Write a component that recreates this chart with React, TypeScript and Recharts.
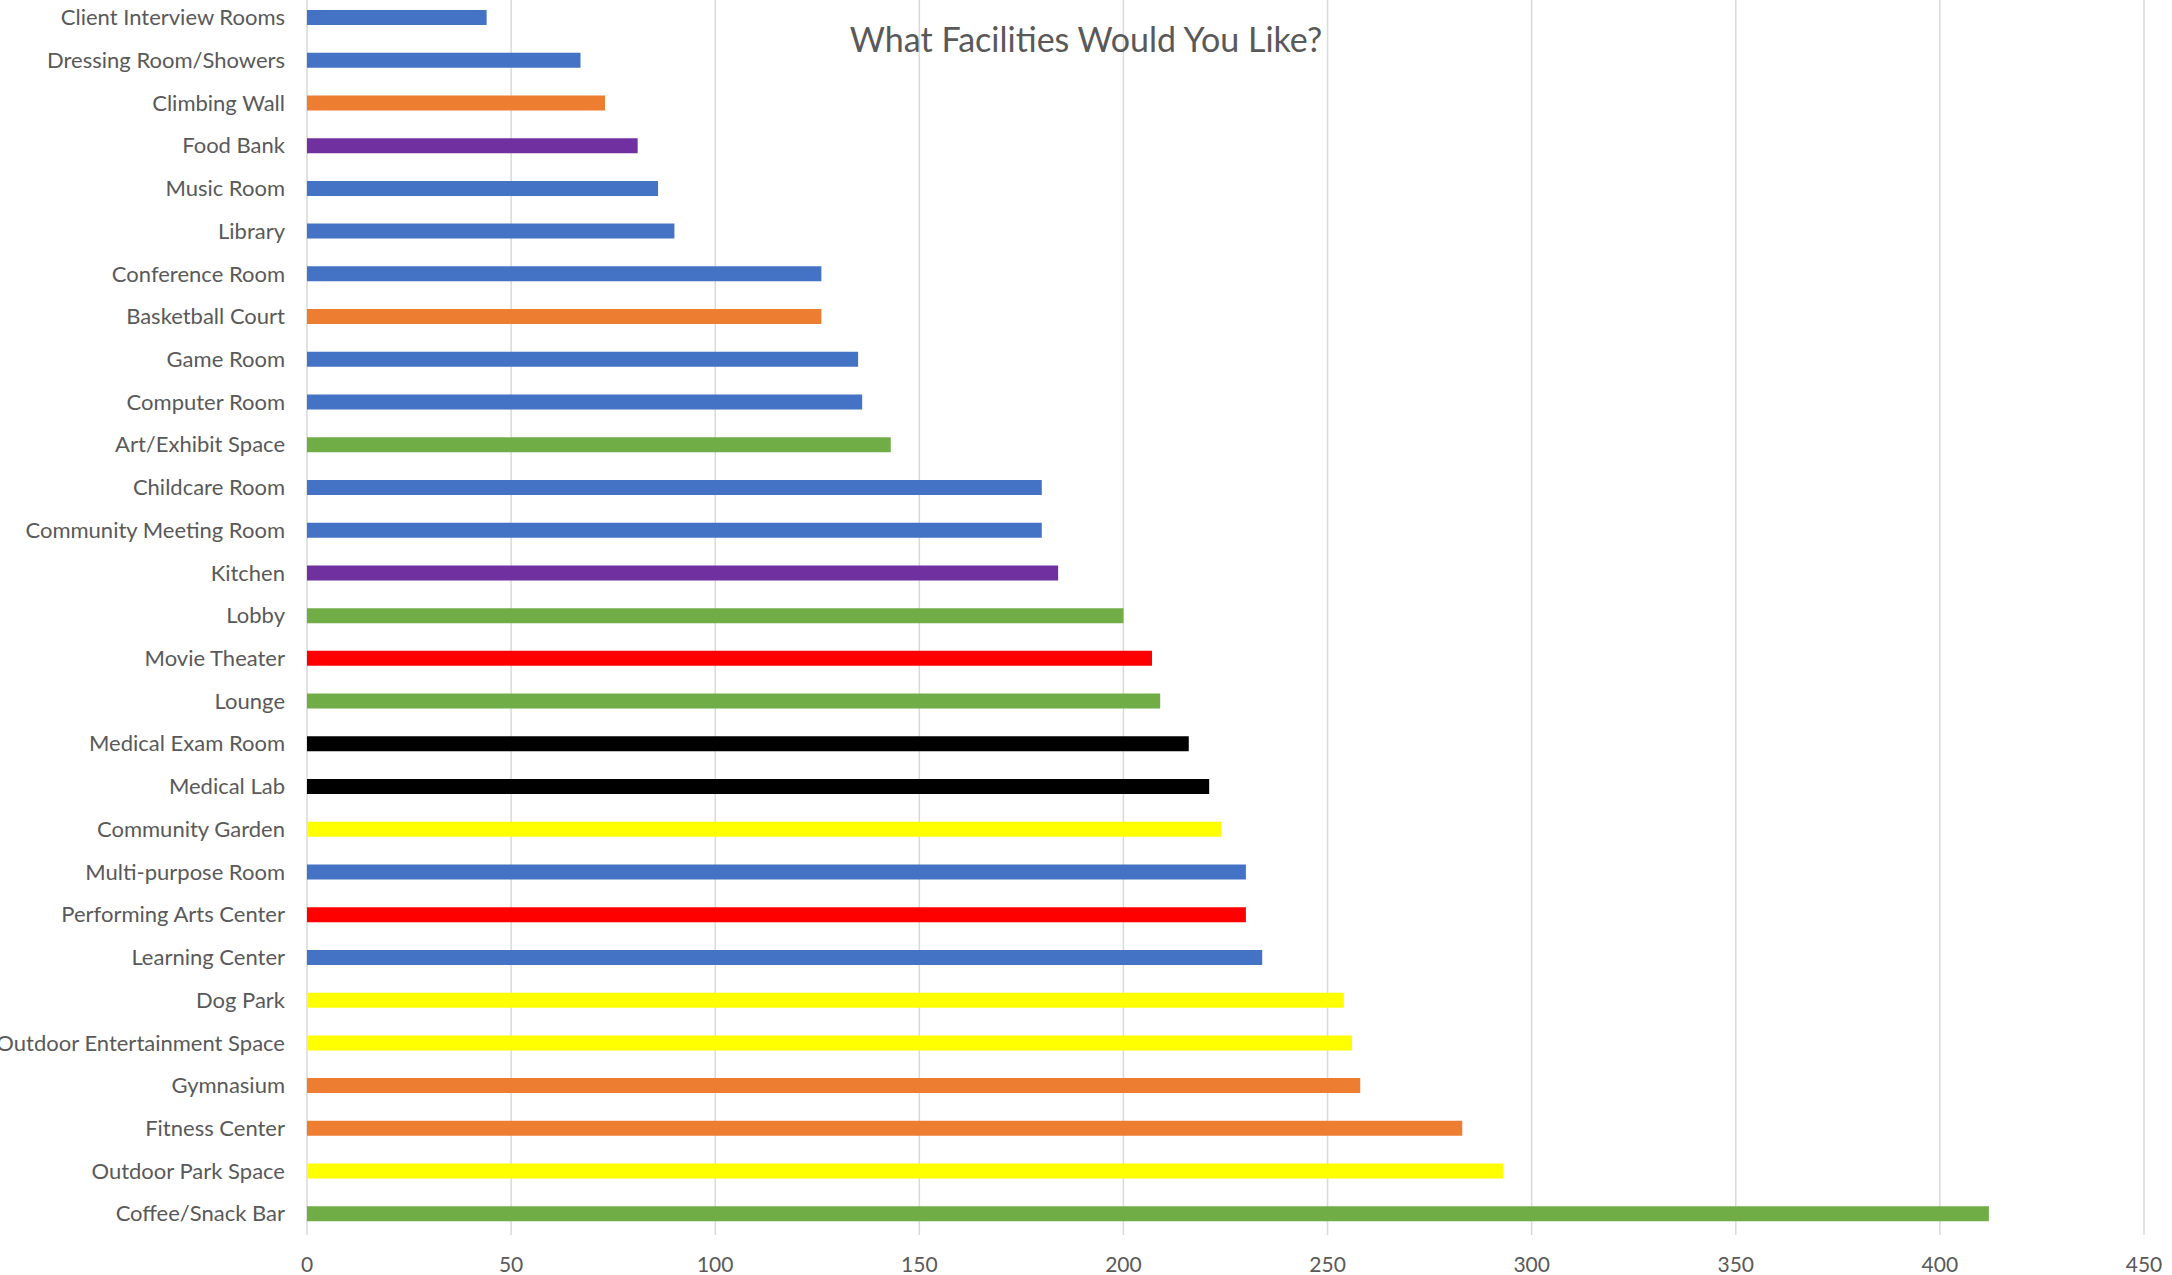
import { BarChart, Bar, XAxis, YAxis, CartesianGrid, Cell } from 'recharts'

const facilities = [
  'Client Interview Rooms', 'Dressing Room/Showers', 'Climbing Wall', 'Food Bank', 'Music Room',
  'Library', 'Conference Room', 'Basketball Court', 'Game Room', 'Computer Room',
  'Art/Exhibit Space', 'Childcare Room', 'Community Meeting Room', 'Kitchen', 'Lobby',
  'Movie Theater', 'Lounge', 'Medical Exam Room', 'Medical Lab', 'Community Garden',
  'Multi-purpose Room', 'Performing Arts Center', 'Learning Center', 'Dog Park',
  'Outdoor Entertainment Space', 'Gymnasium', 'Fitness Center', 'Outdoor Park Space', 'Coffee/Snack Bar',
]

const votes = [
  44, 67, 73, 81, 86,
  90, 126, 126, 135, 136,
  143, 180, 180, 184, 200,
  207, 209, 216, 221, 224,
  230, 230, 234, 254,
  256, 258, 283, 293, 412,
]

const xTicks = [0, 50, 100, 150, 200, 250, 300, 350, 400, 450]

const BLUE = '#4472C4'
const ORANGE = '#ED7D31'
const PURPLE = '#7030A0'
const GREEN = '#70AD47'
const RED = '#FF0000'
const BLACK = '#000000'
const YELLOW = '#FFFF00'

const barColors = [
  BLUE, BLUE, ORANGE, PURPLE, BLUE,
  BLUE, BLUE, ORANGE, BLUE, BLUE,
  GREEN, BLUE, BLUE, PURPLE, GREEN,
  RED, GREEN, BLACK, BLACK, YELLOW,
  BLUE, RED, BLUE, YELLOW,
  YELLOW, ORANGE, ORANGE, YELLOW, GREEN,
]

const data = facilities.map((name, i) => ({ name, votes: votes[i] }))

const FONT = 'Lato, "Open Sans", sans-serif'

export default function App() {
  return (
    <div style={{ position: 'relative', width: 2172, height: 1275, overflow: 'hidden', background: '#fff' }}>
      <style>{'body{margin:0}'}</style>
      <BarChart
        width={2172}
        height={1275}
        data={data}
        layout="vertical"
        margin={{ top: -4, right: 28, bottom: 0, left: 0 }}
        barCategoryGap={0}
      >
        <CartesianGrid horizontal={false} stroke="#d9d9d9" strokeWidth={1.5} />
        <XAxis
          type="number"
          domain={[0, 450]}
          ticks={xTicks}
          axisLine={false}
          tickLine={false}
          tickSize={0}
          tickMargin={22}
          height={40}
          interval={0}
          tick={{ fill: '#595959', fontSize: 21, fontFamily: FONT }}
        />
        <YAxis
          type="category"
          dataKey="name"
          width={307}
          axisLine={false}
          tickLine={false}
          tickSize={0}
          tickMargin={22}
          interval={0}
          tick={{ fill: '#595959', fontSize: 22, fontFamily: FONT }}
        />
        <Bar dataKey="votes" barSize={15} isAnimationActive={false}>
          {data.map((d, i) => (
            <Cell key={d.name} fill={barColors[i]} />
          ))}
        </Bar>
      </BarChart>
      <div
        style={{
          position: 'absolute',
          left: 0,
          right: 0,
          top: 22,
          textAlign: 'center',
          fontFamily: FONT,
          fontSize: 34,
          lineHeight: '34px',
          color: '#595959',
          pointerEvents: 'none',
        }}
      >
        What Facilities Would You Like?
      </div>
    </div>
  )
}
